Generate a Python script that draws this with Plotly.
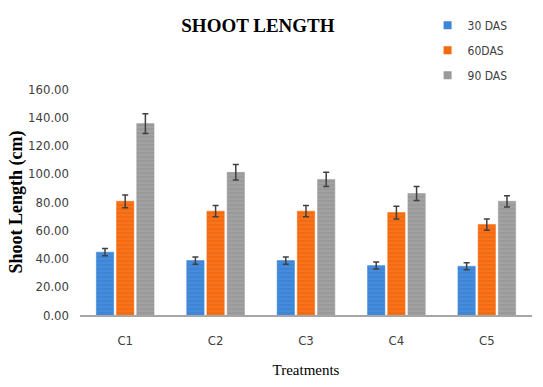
import plotly.graph_objects as go

categories = ["C1", "C2", "C3", "C4", "C5"]
das30 = [44.5, 38.5, 38.5, 35.0, 34.5]
das60 = [80.5, 73.5, 73.5, 72.5, 64.0]
das90 = [135.5, 101.0, 96.0, 86.0, 80.5]
err30 = [2.5, 2.5, 2.5, 2.5, 2.5]
err60 = [4.5, 4.0, 4.0, 4.5, 4.0]
err90 = [7.0, 5.5, 5.0, 5.0, 4.0]
series_names = ["30 DAS", "60DAS", "90 DAS"]
yticks = [0, 20, 40, 60, 80, 100, 120, 140, 160]

colors = ["#3d85d6", "#f46a10", "#9a9a9a"]
pattern_fg = ["#5c9ce6", "#ff8a3a", "#b3b3b3"]
sans = "DejaVu Sans Condensed, Liberation Sans Narrow, sans-serif"
serif = "Liberation Serif, Times New Roman, serif"

fig = go.Figure()
for name, vals, errs, c, pf in zip(series_names, [das30, das60, das90],
                                    [err30, err60, err90], colors, pattern_fg):
    fig.add_trace(go.Bar(
        x=categories, y=vals, name=name, showlegend=False,
        marker=dict(color=c, line=dict(color=c, width=0.5),
                    pattern=dict(shape="-", fgcolor=pf, size=4, solidity=0.3)),
        error_y=dict(type="data", array=errs, color="#404040", thickness=1.5, width=3),
    ))
# legend entries with small square keys
for name, c in zip(series_names, colors):
    fig.add_trace(go.Scatter(
        x=[None], y=[None], mode="markers", name=name, legendgroup=name,
        marker=dict(symbol="square", size=8, color=c),
    ))

fig.update_layout(
    width=543, height=387,
    margin=dict(l=80, r=11, t=88, b=65),
    paper_bgcolor="white", plot_bgcolor="white",
    barmode="group", bargap=0.33, bargroupgap=0.14,
    title=dict(text="<b>SHOOT LENGTH</b>", x=0.475, xanchor="center", y=0.935, yanchor="middle",
               font=dict(family=serif, size=19, color="black")),
    legend=dict(x=0.769, y=1.346, xanchor="left", yanchor="top",
                font=dict(family=sans, size=12, color="#404040"),
                itemwidth=30, tracegroupgap=6, bgcolor="rgba(0,0,0,0)"),
    showlegend=True,
)
fig.update_xaxes(
    showline=True, linecolor="#a6a6a6", linewidth=1.5, ticks="",
    ticklabelstandoff=13,
    tickfont=dict(family=sans, size=13, color="#404040"),
    title=dict(text="Treatments", font=dict(family=serif, size=15, color="black"),
               standoff=17),
)
fig.update_yaxes(
    range=[0, 160], tickvals=yticks, tickformat=".2f", showgrid=False, zeroline=False,
    showline=False, ticks="", ticklabelstandoff=10,
    tickfont=dict(family=sans, size=13, color="#404040"),
    title=dict(text="<b>Shoot Length (cm)</b>", font=dict(family=serif, size=18, color="black"),
               standoff=0),
)

fig.write_html("out.html", config={"displayModeBar": False},
               post_script="document.body.style.margin='0';document.body.style.overflow='hidden';")
